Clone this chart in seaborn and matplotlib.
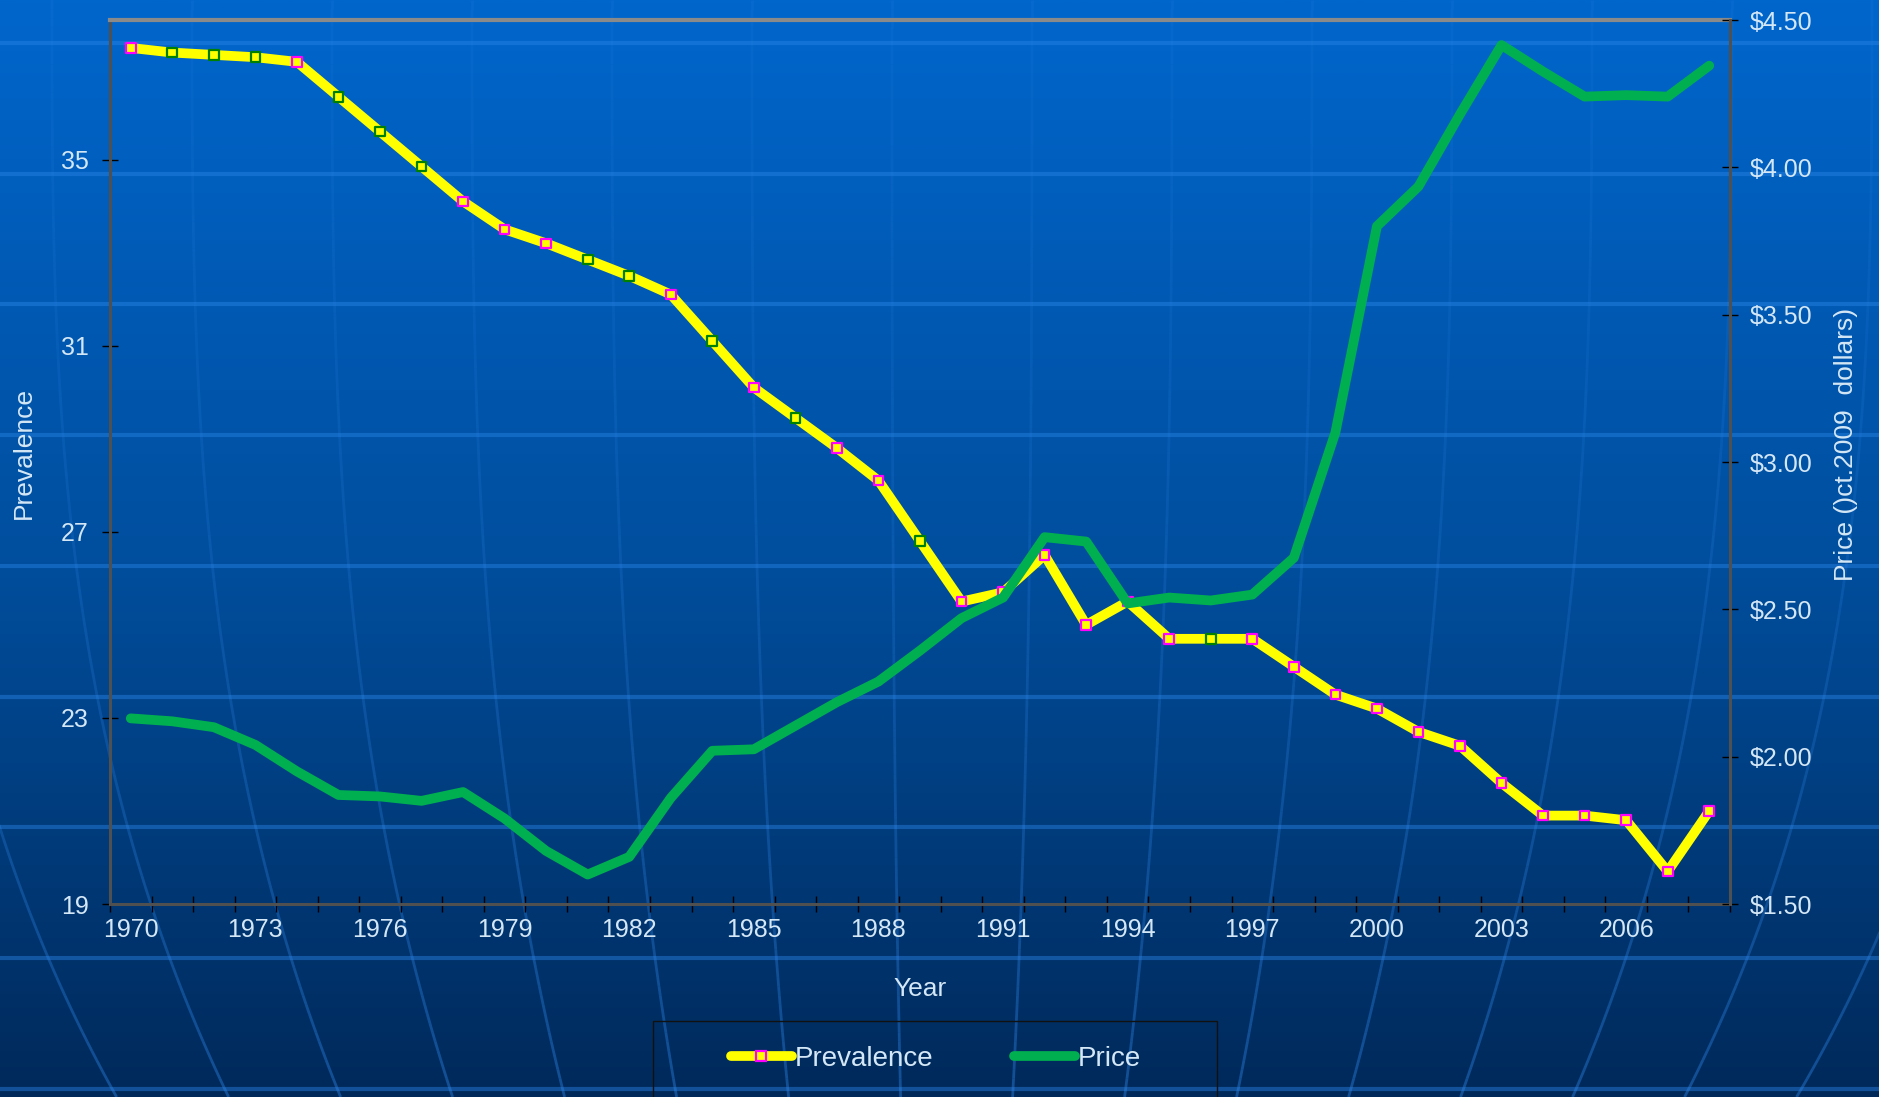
import numpy as np
import pandas as pd
import matplotlib
matplotlib.use("Agg")
import matplotlib.pyplot as plt
import seaborn as sns
from matplotlib.colors import LinearSegmentedColormap, to_rgb
from matplotlib.collections import LineCollection
from matplotlib.lines import Line2D
from matplotlib.patches import Rectangle
from matplotlib.ticker import FuncFormatter

# Datos
years = list(range(1970, 2009))
prevalence = [37.4, 37.3, 37.25, 37.2, 37.1, 36.35, 35.6, 34.85, 34.1, 33.5,
              33.2, 32.85, 32.5, 32.1, 31.1, 30.1, 29.45, 28.8, 28.1, 26.8,
              25.5, 25.7, 26.5, 25.0, 25.5, 24.7, 24.7, 24.7, 24.1, 23.5,
              23.2, 22.7, 22.4, 21.6, 20.9, 20.9, 20.8, 19.7, 21.0]
price = [2.13, 2.12, 2.10, 2.04, 1.95, 1.87, 1.865, 1.85, 1.88, 1.79,
         1.68, 1.60, 1.66, 1.86, 2.02, 2.025, 2.105, 2.185, 2.255, 2.36,
         2.47, 2.54, 2.745, 2.73, 2.52, 2.54, 2.53, 2.55, 2.675, 3.10,
         3.80, 3.935, 4.18, 4.415, 4.325, 4.24, 4.245, 4.24, 4.345]
# True = año con encuesta (marcador magenta), False = valor interpolado (marcador verde)
surveyed = [True, False, False, False, True, False, False, False, True, True,
            True, False, False, True, False, True, False, True, True, False,
            True, True, True, True, True, True, False, True, True, True,
            True, True, True, True, True, True, True, True, True]
label_years = years[::3]
prev_ticks = [19, 23, 27, 31, 35]
price_ticks = [1.5, 2.0, 2.5, 3.0, 3.5, 4.0, 4.5]

df = pd.DataFrame({'year': years, 'prevalence': prevalence, 'price': price})

sns.set_style("ticks")
plt.rcParams['font.family'] = ['Liberation Sans', 'DejaVu Sans']

TXT = '#d4e7f6'
YELLOW = '#ffff00'
GREEN = '#00b050'
W, H = 1879, 1097

fig = plt.figure(figsize=(W / 100, H / 100), dpi=100)

# Fondo: degradado azul con lineas de "globo"
bg = fig.add_axes([0, 0, 1, 1], zorder=-10)
cmap = LinearSegmentedColormap.from_list('bg', ['#0066cc', '#004f9f', '#00295a'])
bg.imshow(np.linspace(0, 1, 512)[:, None], aspect='auto', cmap=cmap, extent=[0, W, H, 0])
bg.set_xlim(0, W)
bg.set_ylim(H, 0)
bg.axis('off')
for k in range(9):
    bg.axhline(43 + 130.7 * k, color='#2a84e6', alpha=0.45, lw=3)

# meridianos casi verticales, mas visibles abajo
yy = np.linspace(0, H, 120)
mr, mg, mb = to_rgb('#2f86e8')
for k in range(-2, 14):
    x0 = 192 + 140 * k
    xx = 935 + (x0 - 935) * (1 - 0.2 * (yy / H) ** 3)
    pts = np.column_stack([xx, yy])
    segs = np.stack([pts[:-1], pts[1:]], axis=1)
    alphas = 0.12 + 0.3 * (yy[:-1] / H) ** 2
    cols = [(mr, mg, mb, a) for a in alphas]
    bg.add_collection(LineCollection(segs, colors=cols, linewidths=2))

# Ejes principales
ax = fig.add_axes([110 / W, (H - 904) / H, 1620 / W, 884 / H])
ax.set_facecolor('none')
ax2 = ax.twinx()

sns.lineplot(data=df, x='year', y='prevalence', ax=ax, color=YELLOW, linewidth=7,
             solid_capstyle='round', zorder=2)
edge = ['#ff00ff' if s else '#008000' for s in surveyed]
ax.scatter(df['year'], df['prevalence'], marker='s', s=48, c=YELLOW,
           edgecolors=edge, linewidths=1.6, zorder=3)
sns.lineplot(data=df, x='year', y='price', ax=ax2, color=GREEN, linewidth=7,
             solid_capstyle='round')

ax.set_xlim(1969.5, 2008.5)
ax.set_ylim(19, 38)
ax2.set_ylim(1.5, 4.5)

ax.set_xticks(label_years)
ax.set_xticks(np.arange(1969.5, 2009, 1), minor=True)
ax.tick_params(axis='x', which='major', length=0, pad=10, labelsize=18, labelcolor=TXT)
ax.tick_params(axis='x', which='minor', direction='inout', length=11, width=1, color='black')
ax.set_yticks(prev_ticks)
ax.tick_params(axis='y', direction='inout', length=11, width=1, color='black',
               pad=10, labelsize=18, labelcolor=TXT)
ax2.set_yticks(price_ticks)
ax2.yaxis.set_major_formatter(FuncFormatter(lambda v, p: f'${v:.2f}'))
ax2.tick_params(axis='y', direction='inout', length=11, width=1, color='black',
                pad=9, labelsize=18, labelcolor=TXT)

for s in ['left', 'bottom']:
    ax.spines[s].set_color('#505050')
    ax.spines[s].set_linewidth(2.2)
ax.spines['top'].set_color('#8a8a8a')
ax.spines['top'].set_linewidth(3)
ax.spines['right'].set_visible(False)
for s in ['left', 'bottom', 'top']:
    ax2.spines[s].set_visible(False)
ax2.spines['right'].set_color('#505050')
ax2.spines['right'].set_linewidth(2.2)

ax.set_xlabel('Year', fontsize=19, color=TXT)
ax.xaxis.set_label_coords(0.5, -0.083)
ax.set_ylabel('Prevalence', fontsize=19, color=TXT)
ax.yaxis.set_label_coords(-0.046, 0.51)
ax2.set_ylabel('Price ()ct.2009  dollars)', fontsize=19, color=TXT)
ax2.yaxis.set_label_coords(1.064, 0.52)

# Leyenda
handles = [Line2D([0], [0], color=YELLOW, lw=7, marker='s', ms=7, mfc=YELLOW,
                  mec='#ff00ff', mew=1.6, solid_capstyle='round'),
           Line2D([0], [0], color=GREEN, lw=7, solid_capstyle='round')]
fig.legend(handles, ['Prevalence', 'Price'], loc='center', bbox_to_anchor=(0.498, 0.0346),
           ncol=2, frameon=False, fontsize=20, handlelength=2.2, columnspacing=2.9,
           handletextpad=0.1, labelcolor=TXT)
fig.patches.append(Rectangle((653 / W, -0.05), 564 / W, (H - 1021) / H + 0.05,
                             transform=fig.transFigure, fill=False, ec='#111111', lw=1))

fig.savefig('out.png', dpi=100)
